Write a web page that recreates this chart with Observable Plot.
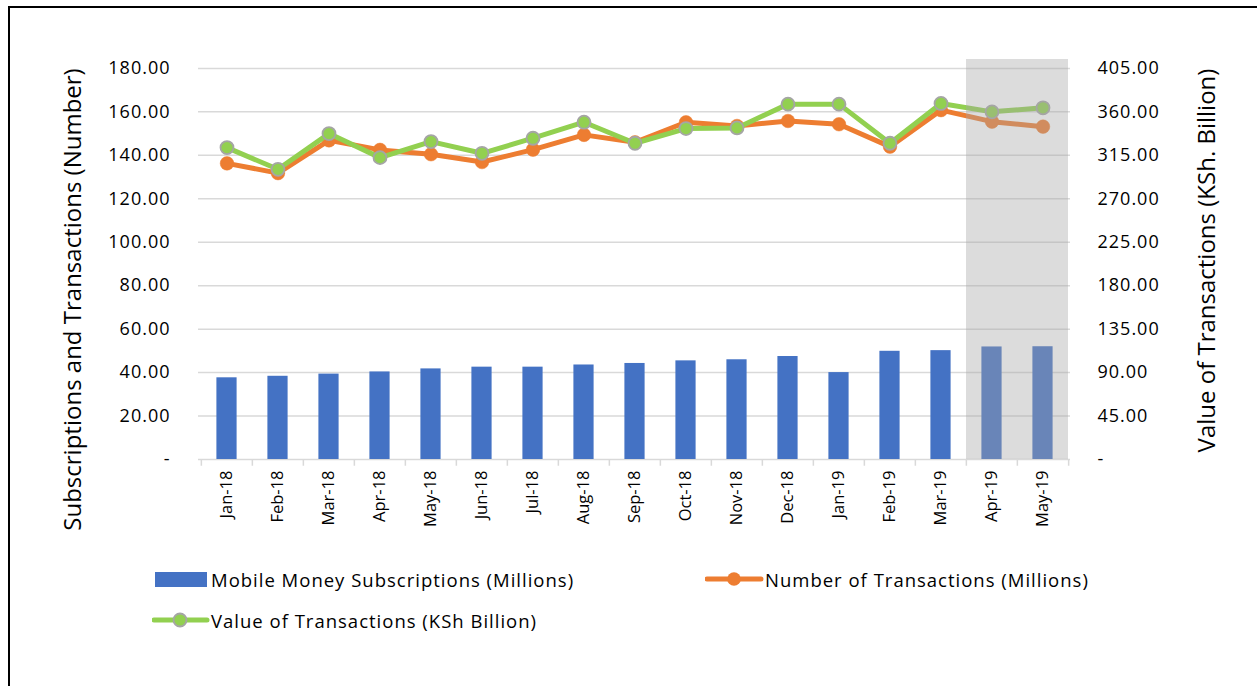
<!DOCTYPE html>
<html><head><meta charset="utf-8">
<script src="https://cdn.jsdelivr.net/npm/d3@7"></script>
<script src="https://cdn.jsdelivr.net/npm/@observablehq/plot@0.6"></script>
<style>
body{margin:0;background:#fff;}
#wrap{position:relative;width:1257px;height:686px;overflow:hidden;font-family:"Open Sans",sans-serif;background:#fff;}
#frame{position:absolute;left:8px;top:6px;width:1320px;height:740px;border:2px solid #000;box-sizing:border-box;}
#chart{position:absolute;left:0;top:0;}
#chart g[aria-label="y-axis tick label"] text{letter-spacing:1px;}
.item{position:absolute;display:flex;align-items:center;height:26px;font-size:18.5px;letter-spacing:1px;color:#000;white-space:nowrap;}
.item svg{display:block;}
</style></head>
<body><div id="wrap"><div id="frame"></div><div id="chart"></div><div id="legend"></div></div>
<script>
const months = ["Jan-18","Feb-18","Mar-18","Apr-18","May-18","Jun-18","Jul-18","Aug-18","Sep-18","Oct-18","Nov-18","Dec-18","Jan-19","Feb-19","Mar-19","Apr-19","May-19"];
const subscriptions = [37.6,38.3,39.3,40.3,41.7,42.5,42.5,43.5,44.2,45.4,45.9,47.4,40.0,49.8,50.1,51.8,51.9];
const transactions = [136.3,131.8,146.9,142.5,140.5,136.9,142.6,149.4,146.0,155.2,153.5,155.8,154.3,144.0,160.8,155.5,153.2];
const values = [323.0,300.5,337.5,312.6,329.2,317.1,332.7,349.3,327.5,342.7,343.4,368.0,368.0,327.5,368.7,360.0,364.2];
const leftTicks = [0,20,40,60,80,100,120,140,160,180];
const rightTicks = [0,45,90,135,180,225,270,315,360,405];
const shaded = ["Apr-19","May-19"];
const seriesNames = ["Mobile Money Subscriptions (Millions)","Number of Transactions (Millions)","Value of Transactions (KSh Billion)"];
const leftTitle = "Subscriptions and Transactions (Number)";
const rightTitle = "Value of Transactions (KSh. Billion)";

const colors = {bar:"#4472c4", num:"#ed7d31", val:"#92d050", marker:"#a5a5a5", grid:"#d9d9d9"};
const leftMax = 180, rightMax = 405, ratio = leftMax / rightMax;
const yTop = 184.1;
const fmt = d => d === 0 ? "-" : d.toFixed(2);

const data = months.map((m, i) => ({month: m, subs: subscriptions[i], num: transactions[i], val: values[i] * ratio}));

const W = 1257, H = 545, mL = 198, mR = 187;
const step = (W - mL - mR) / months.length;

const chart = Plot.plot({
  width: W, height: H,
  marginTop: 59, marginBottom: H - 459, marginLeft: mL, marginRight: mR,
  x: {domain: months, padding: 0, axis: null, label: null},
  y: {domain: [0, yTop], axis: null, label: null},
  style: {fontFamily: "Open Sans", fontSize: "18px", color: "#000", overflow: "visible", background: "transparent"},
  marks: [
    Plot.ruleY(leftTicks, {stroke: colors.grid, strokeWidth: 1.5}),
    Plot.ruleX(months, {x: d => d, y1: 0, y2: -3.1, dx: -step / 2, stroke: colors.grid, strokeWidth: 1.5}),
    Plot.ruleX(months.slice(-1), {x: d => d, y1: 0, y2: -3.1, dx: step / 2, stroke: colors.grid, strokeWidth: 1.5}),
    Plot.barY(data, {x: "month", y: "subs", fill: colors.bar, insetLeft: (step - 20.5) / 2, insetRight: (step - 20.5) / 2}),
    Plot.line(data, {x: "month", y: "num", stroke: colors.num, strokeWidth: 5}),
    Plot.dot(data, {x: "month", y: "num", r: 6.8, fill: colors.num, stroke: colors.num, strokeWidth: 0.5}),
    Plot.line(data, {x: "month", y: "val", stroke: colors.val, strokeWidth: 5}),
    Plot.dot(data, {x: "month", y: "val", r: 6.5, fill: colors.val, stroke: colors.marker, strokeWidth: 1.8}),
    Plot.barY(shaded, {x: d => d, y1: 0, y2: yTop, fill: "#a5a5a5", fillOpacity: 0.39, insetLeft: 0, insetRight: 0, shapeRendering: "crispEdges"}),
    Plot.axisY(leftTicks, {anchor: "left", tickSize: 0, tickPadding: 28, tickFormat: fmt, fontSize: 18, label: null}),
    Plot.axisY(rightTicks.map(d => d * ratio), {anchor: "right", tickSize: 0, tickPadding: 27, tickFormat: d => fmt(Math.round(d / ratio * 100) / 100), fontSize: 18, label: null}),
    Plot.axisX({tickRotate: -90, tickSize: 0, tickPadding: 11, fontSize: 16.5, label: null}),
    Plot.text([leftTitle], {frameAnchor: "left", textAnchor: "middle", rotate: -90, dx: -125, dy: 40, fontSize: 24, text: d => d}),
    Plot.text([rightTitle], {frameAnchor: "right", textAnchor: "middle", rotate: -90, dx: 137, dy: 1, fontSize: 24, text: d => d})
  ]
});
document.getElementById("chart").appendChild(chart);

// legend
const legend = document.getElementById("legend");
function item(left, top, symbol, label) {
  const div = document.createElement("div");
  div.className = "item";
  div.style.left = left + "px";
  div.style.top = top + "px";
  div.innerHTML = symbol + `<span>${label}</span>`;
  legend.appendChild(div);
}
item(155, 566, `<svg width="56" height="26"><rect x="0" y="6" width="52" height="15" fill="${colors.bar}"/></svg>`, seriesNames[0]);
item(705, 566, `<svg width="60" height="26"><line x1="2" x2="56" y1="13" y2="13" stroke="${colors.num}" stroke-width="5" stroke-linecap="round"/><circle cx="29" cy="13" r="6.8" fill="${colors.num}"/></svg>`, seriesNames[1]);
item(152, 607, `<svg width="59" height="26"><line x1="2" x2="55" y1="13" y2="13" stroke="${colors.val}" stroke-width="5" stroke-linecap="round"/><circle cx="28" cy="13" r="6.5" fill="${colors.val}" stroke="${colors.marker}" stroke-width="1.8"/></svg>`, seriesNames[2]);
</script>
</body></html>
